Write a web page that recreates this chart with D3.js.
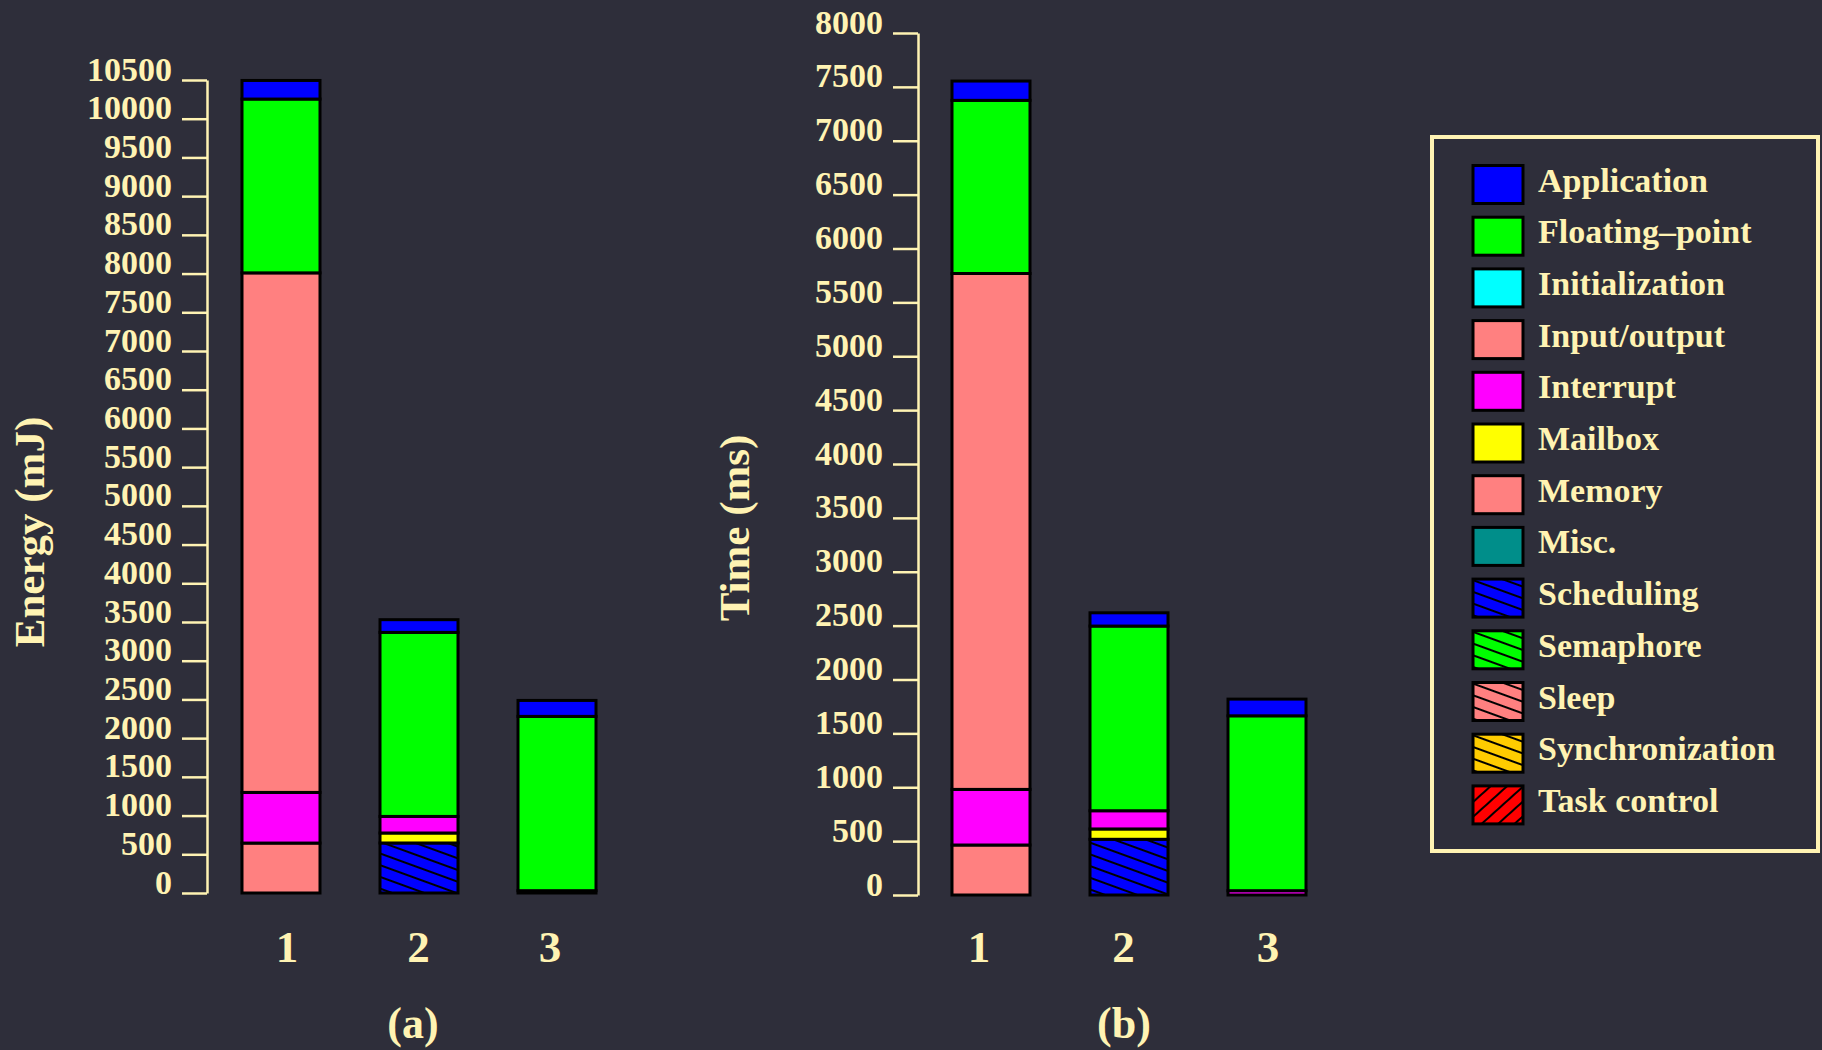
<!DOCTYPE html>
<html>
<head>
<meta charset="utf-8">
<script src="https://cdn.jsdelivr.net/npm/d3@7"></script>
<style>
  html, body { margin: 0; padding: 0; background: #2e2e3a; }
  text { font-family: "Liberation Serif", "Times New Roman", serif; font-weight: bold; }
</style>
</head>
<body>
<script>
// basic setup
const width = 1822;
const height = 1050;
const BG = '#2e2e3a';
const INK = '#fff3b3';

// legend / stack categories (legend order, top of stack first)
const categories = ['Application', 'Floating\u2013point', 'Initialization', 'Input/output',
  'Interrupt', 'Mailbox', 'Memory', 'Misc.', 'Scheduling', 'Semaphore', 'Sleep',
  'Synchronization', 'Task control'];
const catColors = ['#0000ff', '#00ff00', '#00ffff', '#ff8080', '#ff00ff', '#ffff00',
  '#ff8080', '#008e8a', '#0000ff', '#00ff00', '#ff8080', '#ffcc00', '#ff0000'];
// hatch: 0 none, 1 "\" lines, 2 "/" lines
const catHatch = [0, 0, 0, 0, 0, 0, 0, 0, 1, 1, 1, 1, 2];

const runs = ['1', '2', '3'];

// energy (mJ), one array per run, values in category order
const energyRun1 = [240, 2245, 0, 6710, 654, 0, 645, 0, 0, 0, 0, 0, 0];
const energyRun2 = [164, 2377, 0, 0, 214, 129, 0, 0, 646, 0, 0, 0, 0];
const energyRun3 = [206, 2251, 0, 0, 30, 0, 0, 0, 0, 0, 0, 0, 0];

// time (ms)
const timeRun1 = [179, 1607, 0, 4788, 516, 0, 464, 0, 0, 0, 0, 0, 0];
const timeRun2 = [123, 1714, 0, 0, 169, 96, 0, 0, 517, 0, 0, 0, 0];
const timeRun3 = [155, 1623, 0, 0, 40, 0, 0, 0, 0, 0, 0, 0, 0];

const energyTicks = d3.range(0, 10501, 500);
const timeTicks = d3.range(0, 8001, 500);

const svg = d3.select('body')
  .append('svg')
  .attr('width', width)
  .attr('height', height);

svg.append('rect')
  .attr('width', width)
  .attr('height', height)
  .attr('fill', BG);

// hatch patterns
const defs = svg.append('defs');
categories.forEach((c, i) => {
  if (!catHatch[i]) return;
  const p = defs.append('pattern')
    .attr('id', 'hatch' + i)
    .attr('patternUnits', 'userSpaceOnUse')
    .attr('width', 12)
    .attr('height', 11)
    .attr('patternTransform', catHatch[i] === 1 ? 'rotate(20)' : 'rotate(-42)');
  p.append('rect').attr('width', 12).attr('height', 11).attr('fill', catColors[i]);
  p.append('line')
    .attr('x1', 0).attr('y1', 1).attr('x2', 12).attr('y2', 1)
    .attr('stroke', '#000').attr('stroke-width', 2);
});

function fillOf(key) {
  const i = categories.indexOf(key);
  return catHatch[i] ? `url(#hatch${i})` : catColors[i];
}

function buildRows(arrs) {
  return runs.map((r, k) => {
    const row = { run: r };
    categories.forEach((c, j) => { row[c] = arrs[k][j]; });
    return row;
  });
}

function drawChart(opt) {
  const rows = buildRows(opt.values);
  const stack = d3.stack().keys(categories.slice().reverse());
  const series = stack(rows);

  const y = d3.scaleLinear()
    .domain([0, d3.max(opt.ticks)])
    .range(opt.yRange);

  const x = d3.scaleBand()
    .domain(runs)
    .range(opt.xRange)
    .paddingInner(0.4348)
    .paddingOuter(0);

  const xl = d3.scalePoint()
    .domain(runs)
    .range(opt.labelRange);

  const g = svg.append('g');

  // axis
  const axis = g.append('g')
    .attr('transform', `translate(${opt.axisX},0)`)
    .call(d3.axisLeft(y)
      .tickValues(opt.ticks)
      .tickFormat(d3.format('d'))
      .tickSize(25)
      .tickSizeOuter(0)
      .tickPadding(10));
  axis.select('.domain').attr('stroke', INK).attr('stroke-width', 2.5);
  axis.selectAll('.tick line').attr('stroke', INK).attr('stroke-width', 2.5);
  axis.selectAll('.tick text')
    .attr('dy', 0)
    .attr('fill', INK)
    .style('font-size', '34px')
    .style('font-family', '"Liberation Serif", serif')
    .style('font-weight', 'bold');

  // stacked bars
  g.selectAll('g.layer')
    .data(series)
    .enter()
    .append('g')
    .attr('class', 'layer')
    .attr('fill', d => fillOf(d.key))
    .selectAll('rect')
    .data(d => d.filter(s => s[1] - s[0] > 0))
    .enter()
    .append('rect')
    .attr('x', d => x(d.data.run))
    .attr('width', x.bandwidth())
    .attr('y', d => y(d[1]))
    .attr('height', d => y(d[0]) - y(d[1]))
    .attr('stroke', '#000')
    .attr('stroke-width', 3);

  // run labels
  g.selectAll('text.run')
    .data(runs)
    .enter()
    .append('text')
    .attr('class', 'run')
    .attr('x', d => xl(d))
    .attr('y', 962)
    .attr('text-anchor', 'middle')
    .attr('fill', INK)
    .style('font-size', '45px')
    .text(d => d);

  // y title
  g.append('text')
    .attr('transform', `translate(${opt.titleX},${opt.titleY}) rotate(-90)`)
    .attr('text-anchor', 'middle')
    .attr('fill', INK)
    .style('font-size', '43px')
    .text(opt.title);

  // caption
  g.append('text')
    .attr('x', opt.captionX)
    .attr('y', 1038)
    .attr('text-anchor', 'middle')
    .attr('fill', INK)
    .style('font-size', '44px')
    .text(opt.caption);
}

drawChart({
  values: [energyRun1, energyRun2, energyRun3],
  ticks: energyTicks,
  yRange: [893, 80],
  xRange: [242, 596],
  labelRange: [287, 550],
  axisX: 207,
  title: 'Energy (mJ)',
  titleX: 44,
  titleY: 532,
  caption: '(a)',
  captionX: 413
});

drawChart({
  values: [timeRun1, timeRun2, timeRun3],
  ticks: timeTicks,
  yRange: [895, 33],
  xRange: [952, 1306],
  labelRange: [979, 1268],
  axisX: 918,
  title: 'Time (ms)',
  titleX: 749,
  titleY: 528,
  caption: '(b)',
  captionX: 1124
});

// legend
const legend = svg.append('g');
legend.append('rect')
  .attr('x', 1432)
  .attr('y', 137)
  .attr('width', 386)
  .attr('height', 714)
  .attr('fill', 'none')
  .attr('stroke', INK)
  .attr('stroke-width', 4);

const items = legend.selectAll('g.item')
  .data(categories)
  .enter()
  .append('g')
  .attr('class', 'item')
  .attr('transform', (d, i) => `translate(1473,${165.5 + i * 51.7})`);

items.append('rect')
  .attr('width', 50)
  .attr('height', 38)
  .attr('fill', d => fillOf(d))
  .attr('stroke', '#000')
  .attr('stroke-width', 3);

items.append('text')
  .attr('x', 65)
  .attr('y', 26)
  .attr('fill', INK)
  .style('font-size', '34px')
  .text(d => d);
</script>
</body>
</html>
